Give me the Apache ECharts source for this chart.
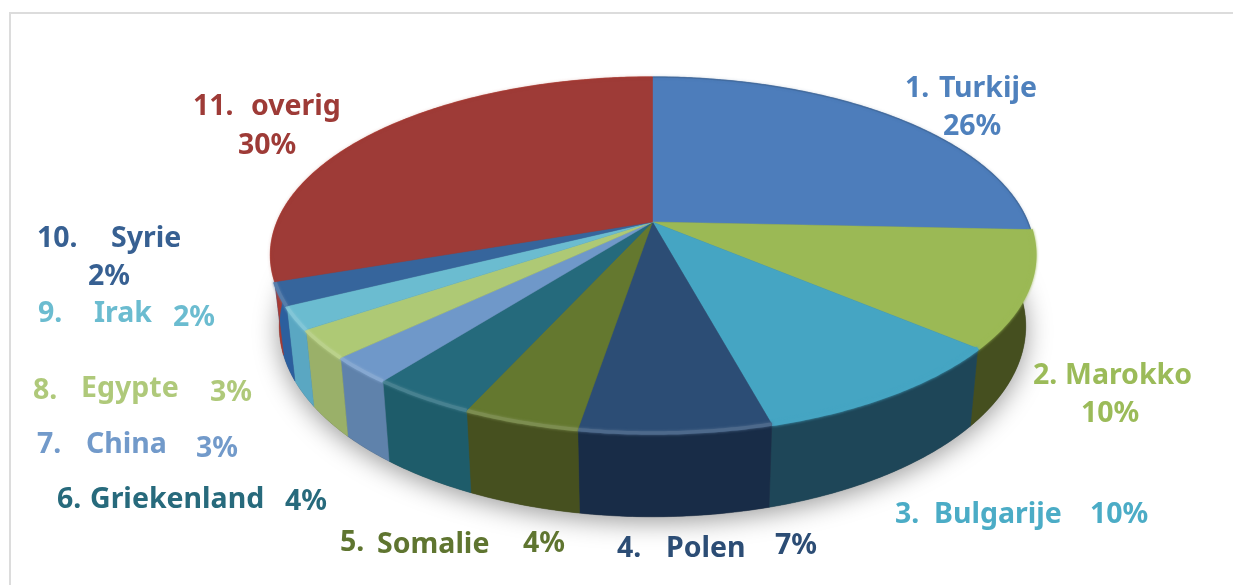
<!DOCTYPE html>
<html>
<head>
<meta charset="utf-8">
<title>Herkomst</title>
<script src="https://cdn.jsdelivr.net/npm/echarts@6/dist/echarts.min.js"></script>
<style>
	html, body { margin: 0; padding: 0; background: #fff; }
	#main { width: 1233px; height: 585px; }
</style>
</head>
<body>
<div id="main"></div>
<script>
	// data
	var categories = ['Turkije', 'Marokko', 'Bulgarije', 'Polen', 'Somalie', 'Griekenland', 'China', 'Egypte', 'Irak', 'Syrie', 'overig'];
	// the printed labels
	var percents = [26, 10, 10, 7, 4, 4, 3, 3, 2, 2, 30];
	// slice sizes as measured on the rim, the labels are rounded
	var shares = [25.7, 10.5, 9.6, 6.8, 4.15, 3.75, 2.4, 2.6, 2.1, 2.1, 30.3];

	// colours per slice
	var topColors = ['#4d7dbb', '#9bb955', '#45a5c3', '#2c4d75', '#64782f', '#256a7c', '#6f98c9', '#aec975', '#6bbcd0', '#36659c', '#9e3b37'];
	var wallColors = ['#3a5f8e', '#454f1f', '#1e4658', '#182c47', '#46501f', '#1e5c6a', '#5f82ab', '#9ab069', '#5aa7c2', '#2c5f9e', '#a83a32'];
	var textColors = ['#4f81bd', '#9bbb59', '#4bacc6', '#2c4d75', '#5f7530', '#276a7c', '#729aca', '#afc97a', '#6bbcd0', '#376092', '#9e3b37'];

	// label positions: number x, number baseline, name x, name baseline, percent x, percent baseline
	var labelPos = [
		[905, 97, 939, 97, 943, 135],
		[1033, 384, 1065, 384, 1081, 422],
		[895, 523, 934, 523, 1090, 523],
		[617, 557, 666, 557, 775, 554],
		[340, 551, 377, 553, 523, 552],
		[57, 508, 90, 508, 285, 510],
		[37, 453, 86, 453, 196, 457],
		[33, 399, 81, 397, 210, 401],
		[38, 322, 94, 322, 173, 326],
		[37, 247, 111, 247, 88, 285],
		[193, 115, 251, 115, 238, 154]
	];

	var total = shares.reduce(function(a, b) { return a + b; }, 0);
	var startAngles = [];
	var sum = 0;
	shares.forEach(function(v) {
		startAngles.push(sum / total * Math.PI * 2);
		sum += v;
	});
	startAngles.push(Math.PI * 2);

	// tilted disc, seen with a bit of perspective
	var cx = 652.5, cy = 222, a = 375.4, b = 171.9, persp = 0.1854;

	function topPoint(t) {
		var X = Math.sin(t), Y = -Math.cos(t), d = 1 - persp * Y;
		return [cx + a * X / d, cy + b * Y / d];
	}
	function bottomPoint(t) {
		var X = Math.sin(t), Y = -Math.cos(t), d = 1 - persp * Y;
		return [cx + 0.977 * a * X / d, cy + 69 + 1.07 * b * Y / d];
	}
	function arc(fn, t0, t1) {
		var pts = [];
		var n = Math.max(2, Math.ceil(Math.abs(t1 - t0) / 0.01));
		for (var i = 0; i <= n; i++) {
			pts.push(fn(t0 + (t1 - t0) * i / n));
		}
		return pts;
	}

	function renderShadow() {
		return {
			type: 'polygon',
			silent: true,
			shape: { points: arc(bottomPoint, 0, Math.PI * 2) },
			style: { fill: '#555', shadowBlur: 26, shadowColor: 'rgba(0,0,0,0.4)', shadowOffsetY: 5 }
		};
	}

	function renderWall(params) {
		var i = params.dataIndex;
		var t0 = startAngles[i], t1 = startAngles[i + 1];
		var pts = arc(topPoint, t0, t1).concat(arc(bottomPoint, t1, t0));
		return {
			type: 'polygon',
			silent: true,
			shape: { points: pts },
			style: { fill: wallColors[i], stroke: wallColors[i], lineWidth: 0.5 }
		};
	}

	function renderTop(params) {
		var i = params.dataIndex;
		var t0 = startAngles[i], t1 = startAngles[i + 1];
		var mid = (t0 + t1) / 2;
		var rim = arc(topPoint, t0, t1);
		var lit = mid > Math.PI * 0.95 && mid < Math.PI * 1.6;
		var front = mid > Math.PI * 0.5 && mid <= Math.PI * 0.95;
		var rimColor = echarts.color.modifyAlpha(wallColors[i], 0.5);
		var rimWidth = 1.5;
		if (lit) {
			rimColor = echarts.color.lift(topColors[i], 0.16);
			rimWidth = 3.5;
		} else if (front) {
			rimColor = topColors[i];
			rimWidth = 4;
		}
		return {
			type: 'group',
			silent: true,
			children: [{
				type: 'polygon',
				shape: { points: [[cx, cy]].concat(rim) },
				style: { fill: topColors[i], stroke: topColors[i], lineWidth: 0.5 }
			}, {
				type: 'polyline',
				shape: { points: rim },
				style: { fill: null, stroke: rimColor, lineWidth: rimWidth, shadowBlur: 3, shadowColor: rimColor }
			}]
		};
	}

	function labelText(text, x, y, color) {
		return {
			type: 'text',
			silent: true,
			style: {
				text: text,
				x: x,
				y: y - 8,
				textVerticalAlign: 'middle',
				fill: color,
				font: 'bold 28.5px "Noto Sans"'
			}
		};
	}

	function renderLabel(params) {
		var i = params.dataIndex;
		var p = labelPos[i];
		return {
			type: 'group',
			children: [
				labelText((i + 1) + '.', p[0], p[1], textColors[i]),
				labelText(categories[i], p[2], p[3], textColors[i]),
				labelText(percents[i] + '%', p[4], p[5], textColors[i])
			]
		};
	}

	var chart = echarts.init(document.getElementById('main'));
	chart.setOption({
		animation: false,
		backgroundColor: '#fff',
		graphic: [{
			type: 'polyline',
			silent: true,
			shape: { points: [[10, 585], [10, 13], [1233, 13]] },
			style: { fill: null, stroke: '#dcdcdc', lineWidth: 2 }
		}],
		series: [
			{ type: 'custom', coordinateSystem: 'none', z: 1, data: [0], renderItem: renderShadow },
			{ type: 'custom', coordinateSystem: 'none', z: 2, data: shares, renderItem: renderWall },
			{ type: 'custom', coordinateSystem: 'none', z: 3, data: shares, renderItem: renderTop },
			{ type: 'custom', coordinateSystem: 'none', z: 4, data: percents, renderItem: renderLabel }
		]
	});
</script>
</body>
</html>
